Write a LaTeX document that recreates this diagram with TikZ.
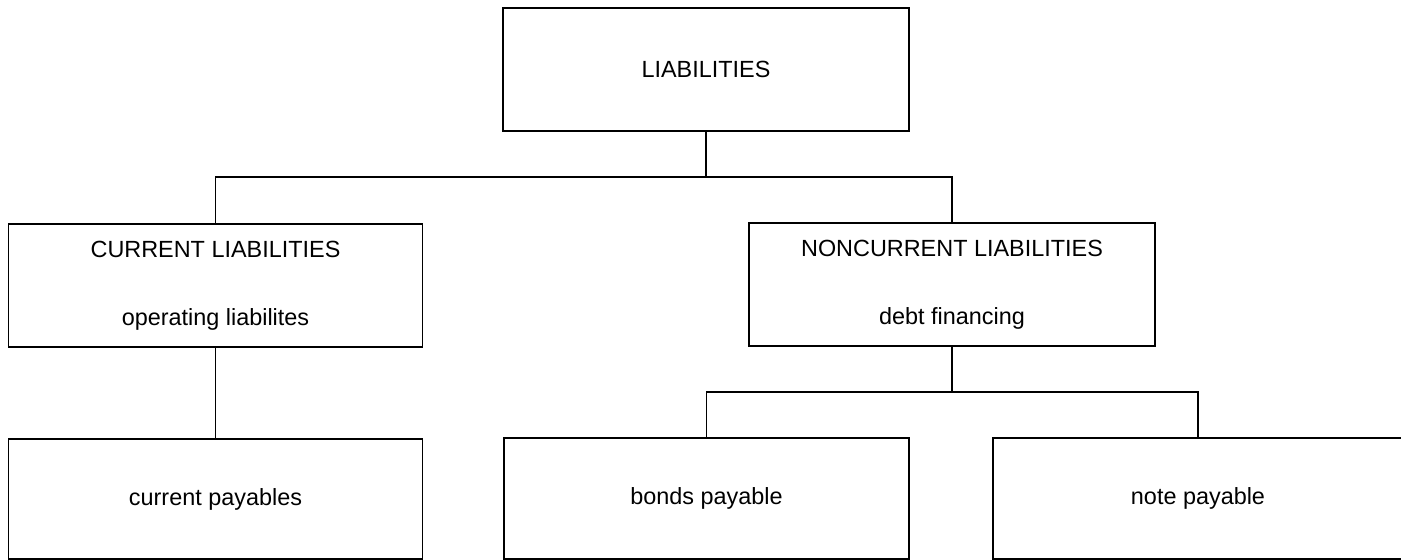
\documentclass[tikz,border=0pt]{standalone}
\usepackage{fontspec}
\setmainfont{Liberation Sans}
\begin{document}
\begin{tikzpicture}[x=1bp,y=-1bp,
  box/.style={draw, line width=1.8bp, rectangle, inner sep=0pt, align=center, font=\fontsize{23.5}{68}\selectfont},
  link/.style={line width=1.8bp}]
\useasboundingbox (0,0) rectangle (1401,560);
\clip (0,0) rectangle (1401,560);
\node[box, minimum width=406bp, minimum height=123bp] (top) at (706,69.5) {LIABILITIES};
\node[box, minimum width=414bp, minimum height=123bp] (cur) at (215.5,285.5) {CURRENT LIABILITIES\\operating liabilites};
\node[box, minimum width=406bp, minimum height=123bp] (non) at (952,284.5) {NONCURRENT LIABILITIES\\debt financing};
\node[box, minimum width=414bp, minimum height=120bp] (cp) at (215.5,499) {current payables};
\node[box, minimum width=405bp, minimum height=121bp] (bp) at (706.5,498.5) {bonds payable};
\node[box, minimum width=410bp, minimum height=121bp] (np) at (1198,498.5) {note payable};
\coordinate (j1) at (706,177);
\coordinate (j2) at (952,392);
\draw[link] (top.south) -- (j1);
\draw[link] (cur.north) |- (j1) -| (non.north);
\draw[link] (cur.south) -- (cp.north);
\draw[link] (non.south) -- (j2);
\draw[link] (bp.north) |- (j2) -| (np.north);
\end{tikzpicture}
\end{document}
